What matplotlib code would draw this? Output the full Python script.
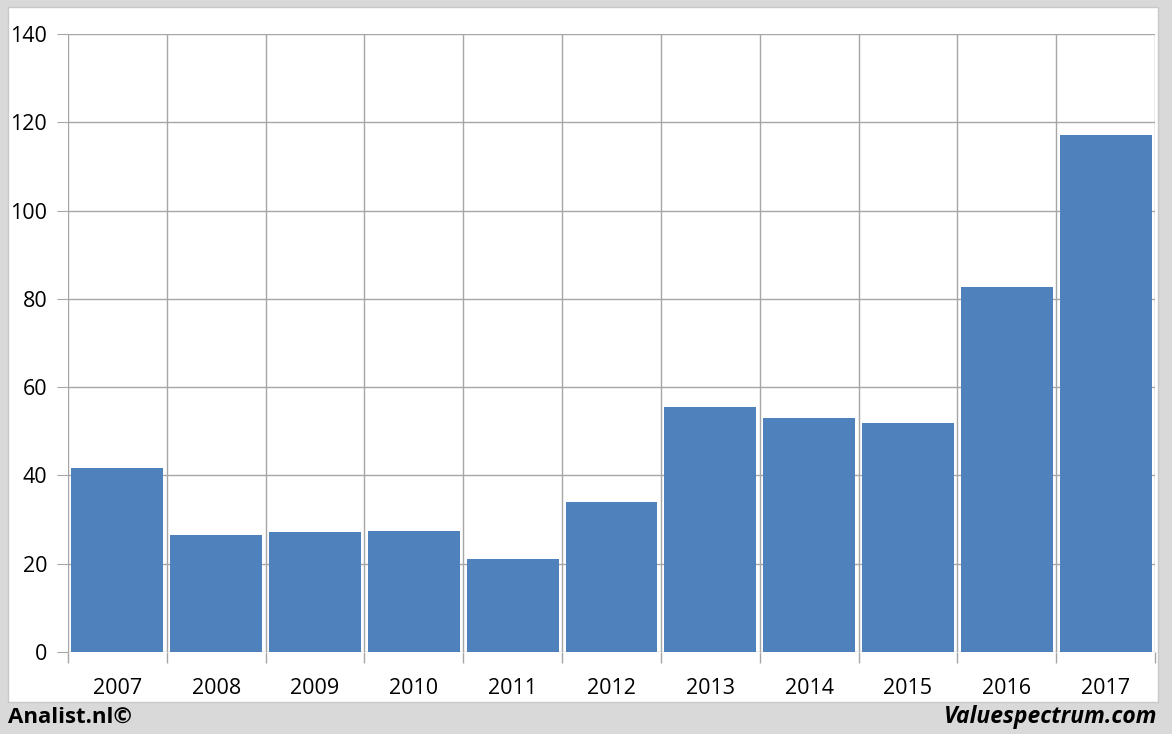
import matplotlib
matplotlib.use("Agg")
import matplotlib.pyplot as plt
from matplotlib.patches import Rectangle

years = ["2007", "2008", "2009", "2010", "2011", "2012", "2013", "2014", "2015", "2016", "2017"]
values = [41.7, 26.5, 27.2, 27.4, 21.1, 34.0, 55.5, 53.0, 51.9, 82.7, 117.1]
yticks = [0, 20, 40, 60, 80, 100, 120, 140]

plt.rcParams['font.family'] = ['Open Sans', 'DejaVu Sans']

fig = plt.figure(figsize=(11.72, 7.34), dpi=100)
fig.patch.set_facecolor('#d9d9d9')
W, H = 1172, 734
# white panel
fig.patches.append(Rectangle((8 / W, 1 - 702 / H), (1158 - 8) / W, (702 - 7) / H,
                             transform=fig.transFigure, facecolor='white',
                             edgecolor='#c8c8c8', linewidth=1, zorder=-10))

ax = fig.add_axes([68 / W, 1 - 652 / H, (1155 - 68) / W, (652 - 34) / H])
ax.set_zorder(5)
ax.set_facecolor('none')
x = list(range(len(years)))
ax.bar(x, values, width=0.93, color='#4f81bd', zorder=3)
ax.set_xlim(-0.5, len(years) - 0.5)
ax.set_ylim(0, 140)
ax.set_yticks(yticks)
ax.set_yticklabels([str(v) for v in yticks], fontsize=15.5)
ax.set_xticks(x)
ax.set_xticklabels(years, fontsize=15.5)
ax.tick_params(axis='x', length=0, pad=19)
ax.tick_params(axis='y', length=8, color='#a6a6a6', pad=7)
# vertical grid at category boundaries, extending below axis
ax.set_xticks([i - 0.5 for i in range(len(years) + 1)], minor=True)
ax.tick_params(axis='x', which='minor', length=8, color='#a6a6a6', width=1)
ax.grid(axis='x', which='minor', color='#a6a6a6', linewidth=1, zorder=1)
ax.grid(axis='y', which='major', color='#a6a6a6', linewidth=1, zorder=1)
ax.set_axisbelow(True)
for s in ax.spines.values():
    s.set_visible(False)

fig.text(8 / W, 1 - 717 / H, "Analist.nl©", fontsize=16, fontweight='bold',
         ha='left', va='center', color='black')
fig.text(1157 / W, 1 - 717 / H, "Valuespectrum.com", fontsize=16.5, fontweight='bold',
         style='italic', ha='right', va='center', color='black')

fig.savefig("out.png", dpi=100, facecolor=fig.get_facecolor())
